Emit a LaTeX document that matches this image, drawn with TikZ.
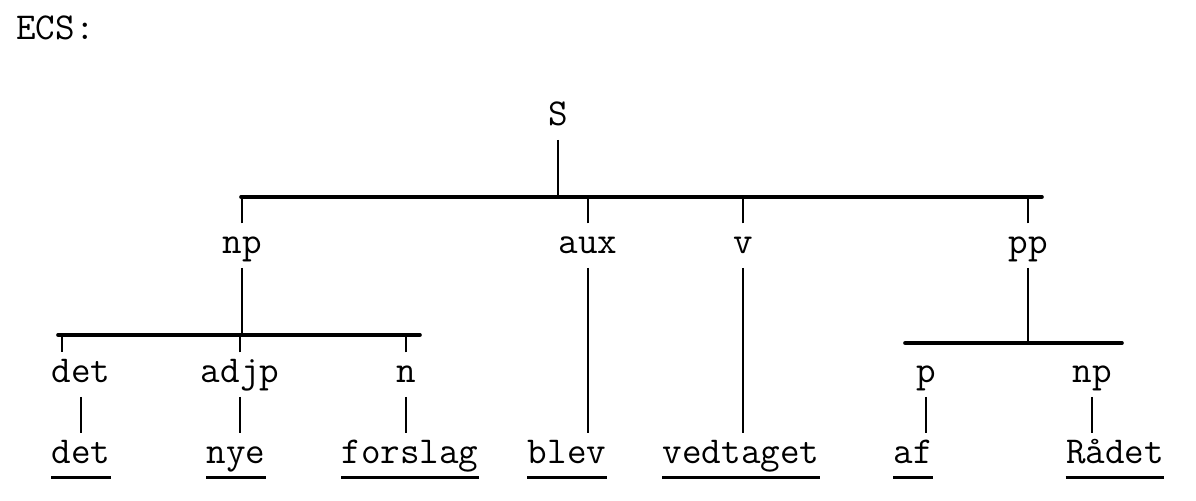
\documentclass[tikz,border=0pt]{standalone}
\usepackage{tikz}
\usepackage{amsmath}

\begin{document}
\begin{tikzpicture}[x=0.5pt, y=-0.5pt,
        cat/.style = {font=\ttfamily\fontsize{19}{23}\selectfont, anchor=base, inner xsep=0pt, inner ysep=3pt, text height=11.6pt, text depth=4.2pt},
        link/.style = {line width=1pt},
        bar/.style = {line width=1.8pt, line cap=round},
        uline/.style = {line width=1.5pt}]
        \useasboundingbox (0,0) rectangle (1196,500);
        \node[cat, anchor=base west] (ecs) at (16,39) {ECS:};
        \node[cat] (S) at (558,125) {S};
        \node[cat] (np) at (242,253) {np};
        \node[cat] (aux) at (588,253) {aux};
        \node[cat] (v) at (743,253) {v};
        \node[cat] (pp) at (1028,253) {pp};
        \node[cat] (det) at (81,382) {det};
        \node[cat] (adjp) at (240,382) {adjp};
        \node[cat] (n) at (406,382) {n};
        \node[cat] (p) at (926,382) {p};
        \node[cat] (np2) at (1092,382) {np};
        \node[cat] (wdet) at (81,463) {det};
        \node[cat] (nye) at (236,463) {nye};
        \node[cat] (forslag) at (410,463) {forslag};
        \node[cat] (blev) at (567,463) {blev};
        \node[cat] (vedtaget) at (741,463) {vedtaget};
        \node[cat] (af) at (913,463) {af};
        \node[cat] (raadet) at (1115,463) {Rådet};
        \coordinate (topL) at (241,197);
        \coordinate (topR) at (1042,197);
        \coordinate (npL) at (58,335);
        \coordinate (npR) at (420,335);
        \coordinate (ppL) at (905,343);
        \coordinate (ppR) at (1122,343);
        \draw[bar] (topL) -- (topR);
        \draw[link] (S.south) -- (S.south |- topL);
        \foreach \k in {np, aux, v, pp}
            \draw[link] (\k.north) -- (\k.north |- topL);
        \draw[bar] (npL) -- (npR);
        \draw[link] (np.south) -- (np.south |- npL);
        \draw[link] ([xshift=2pt]npL) -- ([xshift=2pt]npL |- det.north);
        \draw[link] (adjp.north) -- (adjp.north |- npL);
        \draw[link] (n.north) -- (n.north |- npR);
        \draw[bar] (ppL) -- (ppR);
        \draw[link] (pp.south) -- (pp.south |- ppL);
        \foreach \a/\b in {det/wdet, adjp/nye, n/forslag, aux/blev, v/vedtaget, p/af, np2/raadet}
            \draw[link] (\a.south) -- (\a.south |- \b.north);
        \foreach \w in {wdet, nye, forslag, blev, vedtaget, af, raadet}
            \draw[uline] (\w.south west) -- (\w.south east);
\end{tikzpicture}
\end{document}
